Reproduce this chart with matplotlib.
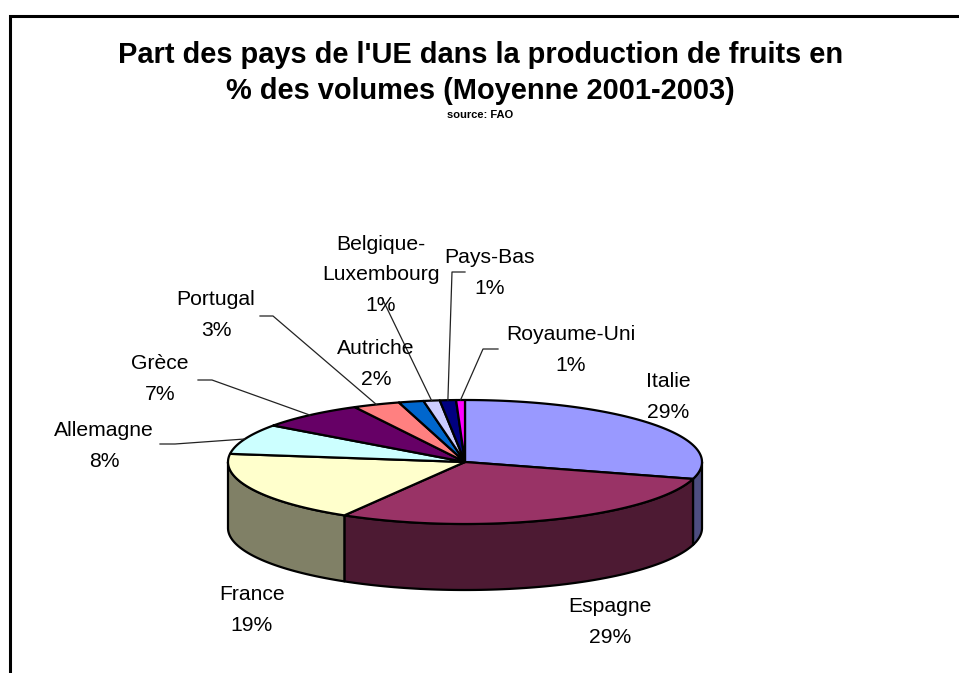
import numpy as np
import matplotlib
matplotlib.use("Agg")
import matplotlib.pyplot as plt
from matplotlib.patches import Polygon

# ---- data ----
countries = ["Italie", "Espagne", "France", "Allemagne", "Grèce", "Portugal",
             "Autriche", "Belgique-\nLuxembourg", "Pays-Bas", "Royaume-Uni"]
shares = [29.4, 29.1, 18.6, 7.9, 7.3, 3.2, 1.7, 1.1, 1.1, 0.6]
colors = ["#9999FF", "#993366", "#FFFFCC", "#CCFFFF", "#660066", "#FF8080",
          "#0066CC", "#CCCCFF", "#000080", "#FF00FF"]
title = "Part des pays de l'UE dans la production de fruits en\n% des volumes (Moyenne 2001-2003)"
subtitle = "source: FAO"

# ---- layout (pixel space) ----
W, H = 959, 673
cx, cy = 465, 462        # pie centre
ra, rb = 237, 62         # ellipse semi axes
depth = 66
label_pos = [(668, 397), (610, 622), (252, 610), (104, 446), (160, 379),
             (216, 315), (376, 364), (381, 275), (490, 273), (571, 350)]
# leader lines: label anchor x, elbow x, y; None = no leader
leaders = [None, None, None, (160, 175, 444), (198, 212, 380), (260, 273, 316),
           None, (382, 382, 298), (465, 452, 272), (498, 483, 349)]

fig = plt.figure(figsize=(W / 100, H / 100), dpi=100)
ax = fig.add_axes([0, 0, 1, 1])
ax.set_xlim(0, W)
ax.set_ylim(H, 0)
ax.axis("off")

# frame
ax.plot([10, 10, W + 5], [H + 5, 16, 16], color="black", lw=2.2, solid_joinstyle="miter")

vals = np.array(shares, dtype=float)
fr = vals / vals.sum()
starts = 90 - 360 * np.concatenate([[0], np.cumsum(fr)[:-1]])
ends = starts - 360 * fr


def pt(t, dz=0.0):
    r = np.radians(t)
    return cx + ra * np.cos(r), cy - rb * np.sin(r) + dz


def darker(c, f=0.5):
    rgb = np.array(matplotlib.colors.to_rgb(c))
    return tuple(rgb * f)


# side walls (front half: angles between -180 and 0)
for s, e, c in zip(starts, ends, colors):
    lo, hi = e, s
    for shift in (-360, 0, 360):
        a0 = max(lo + shift, -180)
        a1 = min(hi + shift, 0)
        if a1 > a0:
            ts = np.linspace(a0, a1, 80)
            top = [pt(t) for t in ts]
            bot = [pt(t, depth) for t in ts[::-1]]
            poly = Polygon(top + bot, closed=True, facecolor=darker(c),
                           edgecolor="black", lw=1.6, joinstyle="round")
            ax.add_patch(poly)

# top faces
for s, e, c in zip(starts, ends, colors):
    n = max(int(abs(s - e) * 2), 4)
    ts = np.linspace(s, e, n)
    pts = [(cx, cy)] + [pt(t) for t in ts]
    ax.add_patch(Polygon(pts, closed=True, facecolor=c, edgecolor="black",
                         lw=1.6, joinstyle="round"))

# labels
for name, v, (lx, ly), s, e, ld in zip(countries, shares, label_pos, starts, ends, leaders):
    ax.text(lx, ly, f"{name}\n{round(v):.0f}%", ha="center", va="center",
            fontsize=15.2, family="Liberation Sans", linespacing=1.75)
    if ld is not None:
        mx, my = pt((s + e) / 2)
        x0, x1, y0 = ld
        ax.plot([x0, x1, mx], [y0, y0, my], color="#222222", lw=0.9)

fig.text(0.501, 1 - 73 / H, title, ha="center", va="center", fontsize=20.9,
         fontweight="bold", family="Liberation Sans", linespacing=1.38)
fig.text(0.501, 1 - 115 / H, subtitle, ha="center", va="center", fontsize=8,
         fontweight="bold", family="Liberation Sans")

fig.savefig("out.png", dpi=100, facecolor="white")
